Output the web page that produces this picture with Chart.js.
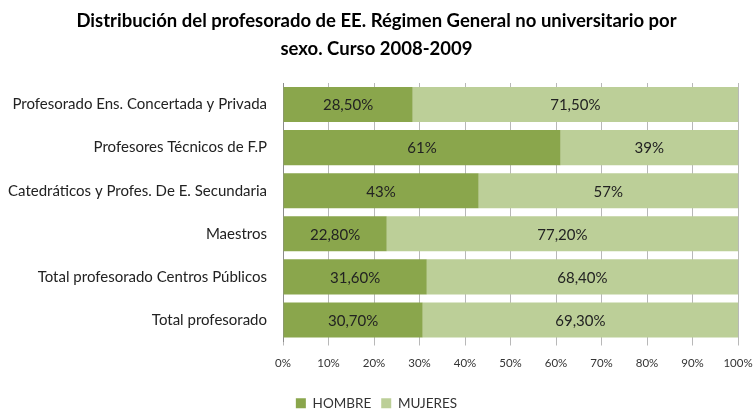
<!DOCTYPE html>
<html>
<head>
<meta charset="utf-8">
<script src="https://cdn.jsdelivr.net/npm/chart.js@4.4.1/dist/chart.umd.min.js"></script>
<style>
  html, body { margin: 0; padding: 0; background: #ffffff; }
  #wrap { width: 753px; height: 410px; position: relative; }
</style>
</head>
<body>
<div id="wrap"><canvas id="c" width="753" height="410"></canvas></div>
<script>
const categories = [
  "Profesorado Ens. Concertada y Privada",
  "Profesores Técnicos de F.P",
  "Catedráticos y Profes. De E. Secundaria",
  "Maestros",
  "Total profesorado Centros Públicos",
  "Total profesorado"
];
const hombre = [28.5, 61, 43, 22.8, 31.6, 30.7];
const mujeres = [71.5, 39, 57, 77.2, 68.4, 69.3];
const hombreLabels = ["28,50%", "61%", "43%", "22,80%", "31,60%", "30,70%"];
const mujeresLabels = ["71,50%", "39%", "57%", "77,20%", "68,40%", "69,30%"];
const seriesNames = ["HOMBRE", "MUJERES"];
const titleLines = ["Distribución del profesorado de EE. Régimen General no universitario por", "sexo. Curso 2008-2009"];

const FONT = "Lato, 'Open Sans', sans-serif";

const barLabels = {
  id: 'barLabels',
  afterDatasetsDraw(chart) {
    const ctx = chart.ctx;
    const labelSets = [hombreLabels, mujeresLabels];
    ctx.save();
    ctx.font = "15px " + FONT;
    ctx.fillStyle = "#222222";
    ctx.textAlign = "center";
    ctx.textBaseline = "middle";
    chart.data.datasets.forEach((ds, di) => {
      const meta = chart.getDatasetMeta(di);
      meta.data.forEach((el, i) => {
        const cx = (el.base + el.x) / 2;
        ctx.fillText(labelSets[di][i], cx, el.y + 1);
      });
    });
    ctx.restore();
  }
};

new Chart(document.getElementById('c'), {
  type: 'bar',
  data: {
    labels: categories,
    datasets: [
      { label: seriesNames[0], data: hombre, backgroundColor: '#8aa64c', borderWidth: 0 },
      { label: seriesNames[1], data: mujeres, backgroundColor: '#bccf98', borderWidth: 0 }
    ]
  },
  options: {
    indexAxis: 'y',
    responsive: false,
    animation: false,
    layout: { padding: { left: 0, right: 0, top: 6, bottom: -10 } },
    plugins: {
      title: {
        display: true,
        text: titleLines,
        color: '#000000',
        font: { family: FONT, size: 18.5, weight: 'bold', lineHeight: 1.5 },
        padding: { top: 1, bottom: 20.5 }
      },
      legend: {
        display: true,
        position: 'bottom',
        labels: {
          color: '#333333',
          font: { family: FONT, size: 13.5 },
          boxWidth: 10,
          boxHeight: 10,
          padding: 10
        }
      },
      tooltip: { enabled: false }
    },
    scales: {
      x: {
        stacked: true,
        min: 0,
        max: 100,
        afterFit: s => { s.height = 45; s.paddingLeft = 0; s.paddingRight = 15; },
        ticks: {
          stepSize: 10,
          callback: v => v + '%',
          color: '#333333',
          font: { family: FONT, size: 11.5 },
          padding: 11
        },
        grid: { color: '#b8b8b8', lineWidth: 1, drawTicks: true, tickLength: 4 },
        border: { display: false }
      },
      y: {
        stacked: true,
        afterFit: s => { s.width = 283; },
        ticks: {
          color: '#222222',
          font: { family: FONT, size: 15 },
          padding: 8
        },
        grid: { display: false },
        border: { display: true, color: '#8c8c8c', width: 1 }
      }
    },
    datasets: { bar: { barPercentage: 0.813, categoryPercentage: 1.0 } }
  },
  plugins: [barLabels]
});
</script>
</body>
</html>
